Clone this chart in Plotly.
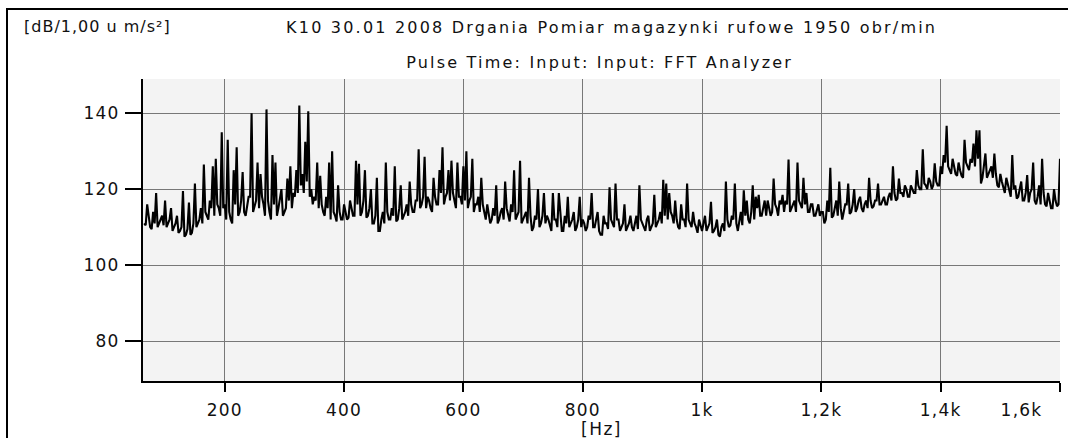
import plotly.graph_objects as go

# Spectrum: main bins every 5 Hz from 65 Hz ...
freq_start = 65
freq_step = 5

level_65_100 = [111, 116, 110, 114, 119, 111, 113, 117]
level_105_200 = [111, 115, 110, 113, 109, 119.5, 108, 116.5, 108.5, 121.5,
                 111, 115, 126.5, 113, 117, 126, 128, 115, 135, 116]
level_205_300 = [133, 112, 125, 131, 114, 124.5, 113, 118, 140, 116,
                 127, 124, 116, 141, 114, 129, 127, 115, 120, 114]
level_305_400 = [122.8, 126, 119, 125, 142, 124, 132.5, 140.5, 120, 118,
                 127, 123.5, 114, 118, 127, 130, 113, 121, 112, 116]
level_405_500 = [112, 117, 113, 127.5, 126.7, 114, 125, 113, 120, 111,
                 123, 109, 114, 127, 112, 115, 126, 112, 121, 113]
level_505_600 = [116, 122, 114, 117, 130.5, 116, 128.5, 118, 115, 123,
                 116, 125, 131, 118, 125, 127.5, 117, 127, 118, 126]
level_605_700 = [130, 117, 128, 116, 118, 123, 114, 116, 111, 115,
                 121, 112, 115, 122, 113, 116, 125, 113, 127.5, 112]
level_705_800 = [114, 123, 109, 113, 120, 111, 119, 113, 110, 119,
                 112, 119, 109, 113, 118, 111, 114, 110, 118, 112]
level_805_900 = [109, 113, 119, 110, 114, 108, 113, 111, 120.5, 111,
                 121.5, 112, 110, 116, 110, 113, 109, 113, 121, 111]
level_905_1000 = [109, 113, 110, 118.5, 111, 114, 122.5, 121.5, 119, 113,
                  117, 110, 116, 112, 121.5, 111, 114, 110, 112, 109]
level_1005_1100 = [113, 110, 116.7, 109, 112, 107.5, 111, 122, 110, 113,
                   121.5, 109, 114, 119.7, 117, 111, 121, 118, 118.5, 113]
level_1105_1200 = [117, 117, 113, 122.8, 115, 117, 118.5, 117, 127.8, 115,
                   117, 127, 116, 123, 119, 114, 116, 113, 116, 114]
level_1205_1300 = [111, 117, 125.6, 113, 117, 122, 112, 116, 121.5, 114,
                   120, 115, 118, 114, 117, 123, 115, 117, 121.5, 116]
level_1305_1400 = [118, 116, 119, 126, 117, 122.8, 119, 121, 118, 121,
                   119, 125, 120, 130.5, 121, 123, 120, 126.8, 121, 126]
level_1405_1500 = [129, 136.7, 125, 128, 124, 127, 123.5, 133, 126, 128,
                   132, 135.5, 135.5, 123, 129.4, 124, 126, 129.4, 121, 124]
level_1505_1600 = [120, 123, 119.5, 129, 121, 118, 122, 117, 123.7, 119,
                   127, 116, 121, 128, 116, 119, 115, 120, 115.5, 128]

# ... and the in-between bins (67.5 Hz, 72.5 Hz, ...) of the dense band
mid_65_100 = [110.5, 112, 109.5, 111, 110, 112, 110.5]
mid_100_200 = [110, 112, 109, 111, 108.5, 110, 107.5, 109.5, 108, 111,
               110, 112, 111, 114, 112, 115, 113, 116, 113, 115]
mid_200_300 = [112, 114, 111, 116, 113, 117, 114, 115, 118, 114,
               117, 115, 118, 113, 117, 112, 116, 113, 117, 113]
mid_300_400 = [115, 117, 115, 118, 119, 121, 119, 122, 118, 116,
               117, 115, 116, 113, 115, 112, 114, 111.5, 114, 112]
mid_400_500 = [114, 112.5, 115, 113, 116, 113, 117, 112.5, 115, 111,
               113, 109, 112, 111, 114, 112, 113, 111.5, 115, 112]
mid_500_600 = [114, 113, 116, 114, 117, 115, 118, 115, 117, 114,
               118, 116, 119, 116, 119, 117, 119, 115, 118, 116]
mid_600_700 = [117, 115, 118, 114, 116, 114, 116, 112, 114, 112,
               113, 111, 114, 112, 115, 111.5, 114, 112, 114, 111]
mid_700_800 = [113, 111, 113, 110, 112, 110, 113, 111, 112, 109,
               112, 110, 113, 109, 111, 110, 112, 109, 112, 110]
mid_800_900 = [111, 110, 112, 110, 112, 109, 108, 111, 109.5, 112,
               110, 112, 109, 111, 109, 111, 110, 111, 109.5, 112]
mid_900_1000 = [110, 112, 109, 111, 110, 112, 111, 113, 112, 114,
                111, 112, 109.5, 112, 110, 112, 110, 111, 108.5, 110]
mid_1000_1100 = [111, 109, 111, 108.5, 110, 108, 110, 109, 112, 110.5,
                 112, 111, 112, 110.5, 113, 112, 114, 112, 115, 113]
mid_1100_1200 = [115, 113, 115, 114, 116, 113, 116, 114, 116, 114,
                 116, 114, 117, 115, 116, 114, 116, 113, 115, 113]
mid_1200_1300 = [114, 112, 114, 112.5, 115, 113, 115, 114, 116, 113.5,
                 116, 114, 117, 115, 116, 115, 117, 115.5, 117, 116]
mid_1300_1400 = [117, 116, 118, 117, 119, 117.5, 119, 118, 120, 118,
                 120, 119, 121, 120, 121.5, 120, 122, 121, 122, 121]
mid_1400_1500 = [124, 127, 126, 124, 126, 123.5, 125, 123, 127, 125,
                 127, 126, 128, 121.5, 126, 123, 125, 123, 124, 120.5]
mid_1500_1600 = [122, 119, 121, 118, 120, 117.5, 120, 117, 119, 116.5,
                 120, 117, 118, 116, 119, 115.5, 117, 115, 117, 116]

levels = (level_65_100 + level_105_200 + level_205_300 + level_305_400 +
          level_405_500 + level_505_600 + level_605_700 + level_705_800 +
          level_805_900 + level_905_1000 + level_1005_1100 + level_1105_1200 +
          level_1205_1300 + level_1305_1400 + level_1405_1500 + level_1505_1600)
mids = (mid_65_100 + mid_100_200 + mid_200_300 + mid_300_400 + mid_400_500 +
        mid_500_600 + mid_600_700 + mid_700_800 + mid_800_900 + mid_900_1000 +
        mid_1000_1100 + mid_1100_1200 + mid_1200_1300 + mid_1300_1400 +
        mid_1400_1500 + mid_1500_1600)

freqs, values = [], []
for i, v in enumerate(levels):
    f = freq_start + i * freq_step
    freqs.append(f)
    values.append(v)
    if i < len(mids):
        freqs.append(f + freq_step / 2)
        values.append(mids[i])

x_tick_vals = [200, 400, 600, 800, 1000, 1200, 1400, 1600]
x_tick_text = ["200", "400", "600", "800", "1k", "1,2k", "1,4k", ""]
y_tick_vals = [80, 100, 120, 140]

title_line1 = "K10 30.01 2008 Drgania Pomiar magazynki rufowe 1950 obr/min"
title_line2 = "Pulse Time: Input: Input: FFT Analyzer"
y_unit = "[dB/1,00 u m/s²]"
x_unit = "[Hz]"

FONT = "DejaVu Sans"
W, H = 1068, 438
L, R, T, B = 143, 8, 79, 57
PW, PH = W - L - R, H - T - B


def px(xp):
    return (xp - L) / PW


def py(yp):
    return (H - B - yp) / PH


fig = go.Figure()
fig.add_trace(go.Scatter(x=freqs, y=values, mode="lines",
                         line=dict(color="black", width=2.1),
                         showlegend=False, hoverinfo="x+y"))

axis_common = dict(showgrid=True, gridcolor="#777777", gridwidth=1,
                   zeroline=False, ticks="outside", tickcolor="black",
                   tickwidth=2, showline=True, linecolor="black", linewidth=2,
                   tickfont=dict(family=FONT, size=17, color="#111"))

fig.update_layout(
    width=W, height=H,
    margin=dict(l=L, r=R, t=T, b=B, pad=0),
    paper_bgcolor="white", plot_bgcolor="#f3f3f3",
    xaxis=dict(range=[63, 1600], tickvals=x_tick_vals, ticktext=x_tick_text,
               ticklen=9, ticklabelstandoff=4, **axis_common),
    yaxis=dict(range=[69.5, 149], tickvals=y_tick_vals, ticklen=16,
               ticklabelstandoff=2, **axis_common),
    shapes=[dict(type="rect", xref="paper", yref="paper",
                 x0=px(7), x1=px(1075), y0=py(445), y1=py(9),
                 line=dict(color="black", width=2), fillcolor="rgba(0,0,0,0)",
                 layer="below")],
    annotations=[
        dict(text=y_unit, xref="paper", yref="paper", x=px(30), y=py(26),
             xanchor="left", yanchor="middle", showarrow=False,
             font=dict(family=FONT, size=16, color="#111")),
        dict(text=title_line1, xref="paper", yref="paper", x=px(611), y=py(27),
             xanchor="center", yanchor="middle", showarrow=False,
             font=dict(family=FONT, size=16, color="#111")),
        dict(text=title_line2, xref="paper", yref="paper", x=px(600), y=py(62),
             xanchor="center", yanchor="middle", showarrow=False,
             font=dict(family=FONT, size=16, color="#111")),
        dict(text=x_unit, xref="paper", yref="paper", x=px(601), y=py(429),
             xanchor="center", yanchor="middle", showarrow=False,
             font=dict(family=FONT, size=17, color="#111")),
        dict(text="1,6k", xref="x", yref="paper", x=1600, y=py(410),
             xanchor="right", yanchor="middle", xshift=-18, showarrow=False,
             font=dict(family=FONT, size=17, color="#111")),
    ],
)

spacing_js = """
(function(){
  var spec = {};
  spec[%r] = '2.2px';
  spec[%r] = '2.2px';
  spec[%r] = '1px';
  spec[%r] = '1.5px';
  spec['1,6k'] = '1.2px';
  document.querySelectorAll('.annotation-text').forEach(function(t){
    var s = spec[t.textContent];
    if (s) { t.style.letterSpacing = s; }
  });
  document.querySelectorAll('.xtick text, .ytick text').forEach(function(t){
    t.style.letterSpacing = '1.2px';
  });
})();
""" % (title_line1, title_line2, y_unit, x_unit)

fig.write_html("out.html", post_script=spacing_js)
